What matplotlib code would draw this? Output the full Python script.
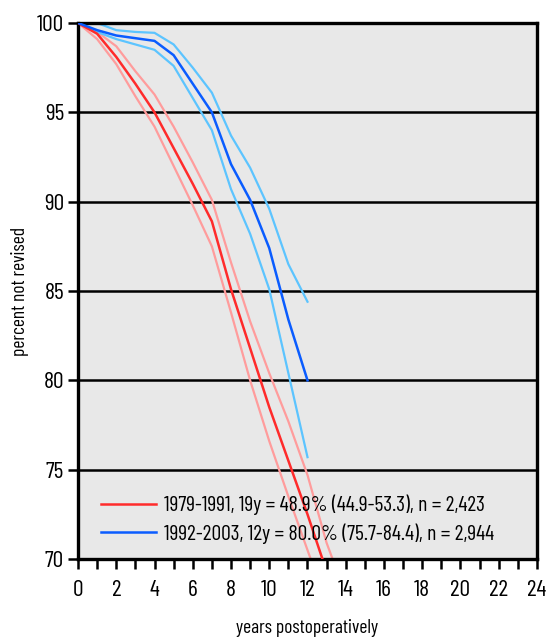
import numpy as np
import matplotlib

matplotlib.use("Agg")
import matplotlib.pyplot as plt
from matplotlib.lines import Line2D

plt.rcParams["font.family"] = ["Barlow Condensed", "DejaVu Sans"]

# survival curves (years, percent not revised)
years_old = [0, 1, 2, 3, 4, 5, 6, 7, 8, 9, 10, 11, 12, 13, 14]
old_main = [100, 99.4, 98.1, 96.6, 95.0, 93.0, 91.0, 88.9, 85.1, 81.8, 78.5, 75.5, 72.5, 69.3, 66.0]
old_upper = [100, 99.5, 98.7, 97.3, 96.0, 94.2, 92.2, 90.1, 86.6, 83.3, 80.4, 77.7, 74.7, 70.9, 68.0]
old_lower = [100, 99.1, 97.7, 95.9, 94.2, 92.0, 89.8, 87.5, 83.8, 80.0, 76.6, 73.5, 70.5, 67.5, 64.5]

years_new = [0, 1, 2, 3, 4, 5, 6, 7, 8, 9, 10, 11, 12]
new_main = [100, 99.6, 99.3, 99.15, 99.0, 98.2, 96.6, 95.0, 92.1, 90.1, 87.4, 83.4, 80.0]
new_upper = [100, 100, 99.6, 99.5, 99.45, 98.8, 97.5, 96.1, 93.7, 91.9, 89.6, 86.5, 84.4]
new_lower = [100, 99.5, 99.1, 98.8, 98.5, 97.6, 95.8, 94.0, 90.7, 88.2, 85.1, 80.4, 75.7]

legend_labels = [
    "1979-1991, 19y = 48.9% (44.9-53.3), n = 2,423",
    "1992-2003, 12y = 80.0% (75.7-84.4), n = 2,944",
]

red, pink = "#ff2b2b", "#ff9c9c"
blue, lightblue = "#0a5cff", "#5cc4ff"

fig = plt.figure(figsize=(5.47, 6.39), dpi=100)
ax = fig.add_axes([0.1426, 0.1252, 0.8391, 0.8388])
ax.set_facecolor("#e8e8e8")

for y in [75, 80, 85, 90, 95]:
    ax.axhline(y, color="black", lw=1.8, zorder=1)

ax.plot(years_old, old_upper, color=pink, lw=1.6, zorder=2)
ax.plot(years_old, old_lower, color=pink, lw=1.6, zorder=2)
ax.plot(years_old, old_main, color=red, lw=1.8, zorder=3)
ax.plot(years_new, new_upper, color=lightblue, lw=1.6, zorder=2)
ax.plot(years_new, new_lower, color=lightblue, lw=1.6, zorder=2)
ax.plot(years_new, new_main, color=blue, lw=1.8, zorder=3)

ax.set_xlim(0, 24)
ax.set_ylim(70, 100)
ax.set_xticks(range(0, 25, 2))
ax.set_xticks(range(0, 25), minor=True)
ax.set_yticks(range(70, 101, 5))
ax.tick_params(axis="both", which="both", direction="out", width=1.8, colors="black")
ax.tick_params(axis="both", which="major", length=7, labelsize=17)
ax.tick_params(axis="x", which="minor", length=7)
ax.tick_params(axis="x", pad=8)
ax.tick_params(axis="y", pad=3)

for side, spine in ax.spines.items():
    spine.set_linewidth(2.4)
    spine.set_color("black")

ax.set_xlabel("years postoperatively", fontsize=14, va="center")
ax.set_ylabel("percent not revised", fontsize=14, va="center")
ax.xaxis.set_label_coords(0.5, -0.129)
ax.yaxis.set_label_coords(-0.126, 0.5)

handles = [Line2D([], [], color=red, lw=1.8), Line2D([], [], color=blue, lw=1.8)]
ax.legend(handles, legend_labels, loc="lower left", bbox_to_anchor=(0.05, 0.028),
          frameon=False, fontsize=15.6, handlelength=2.55, handletextpad=0.35,
          labelspacing=0.38, borderaxespad=0, borderpad=0)

fig.savefig("out.png", dpi=100)
